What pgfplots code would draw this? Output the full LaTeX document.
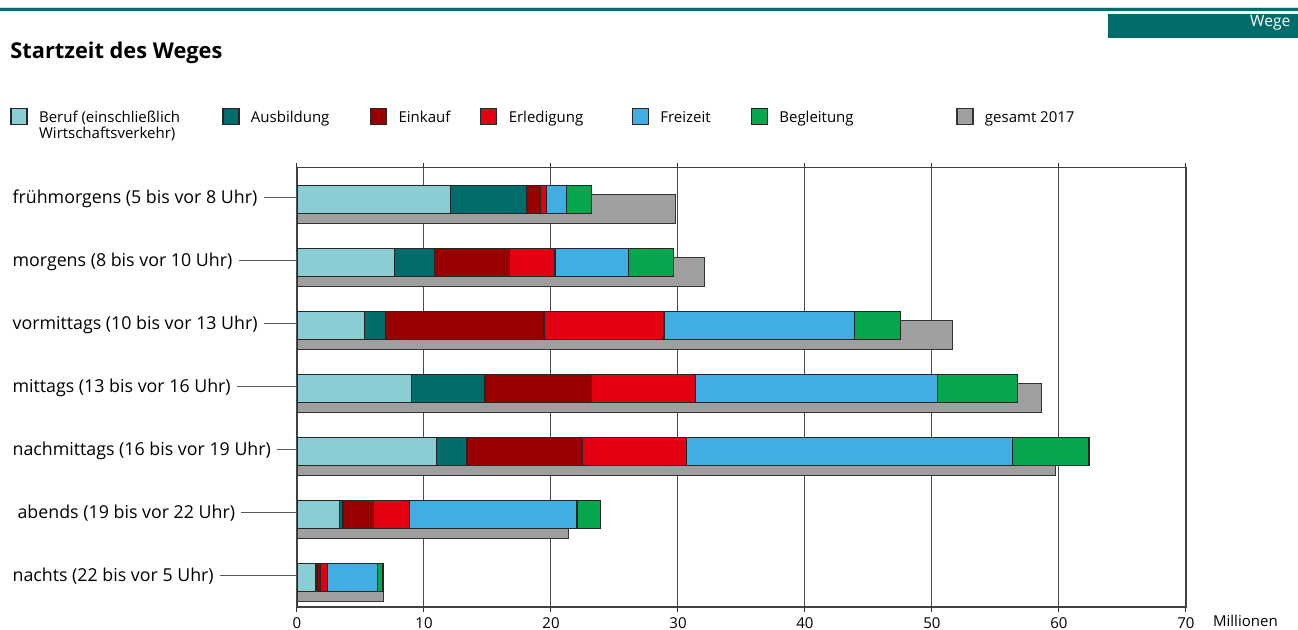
\documentclass[border=0pt]{standalone}
\usepackage{fontspec}
\setmainfont{Open Sans}
\usepackage{pgfplots}
\pgfplotsset{compat=1.18}

\definecolor{cBeruf}{HTML}{8ACED3}
\definecolor{cAusb}{HTML}{006D6C}
\definecolor{cEink}{HTML}{990000}
\definecolor{cErl}{HTML}{E30013}
\definecolor{cFrei}{HTML}{40AEE3}
\definecolor{cBegl}{HTML}{06A64C}
\definecolor{cGes}{HTML}{9F9F9F}

% label with leader line running to the axis
\newcommand{\lab}[1]{\makebox[142pt][l]{#1\hspace{3.2pt}{\color{black!65}\leaders\vrule height 3.45pt depth -2.85pt\hfill}}}

\pgfplotsset{
  mylegend/.style={legend image code/.code={
      \draw[##1, line width=0.6pt] (0pt,-1.2pt) rectangle (8pt,7pt);
      \path[draw=none, fill=none] (0pt,0pt) -- (14pt,0pt);}},
  frame/.style={at={(148.5pt,11.5pt)}, anchor=south west,
    scale only axis, width=444.5pt, height=219.65pt,
    xmin=0, xmax=70, ymin=-0.497, ymax=6.476},
}

\begin{document}
\begin{tikzpicture}
\useasboundingbox (0,0) rectangle (649pt,315pt);

% header
\fill[black!15] (0,311pt) rectangle (649pt,311.6pt);
\fill[cAusb] (0,309.6pt) rectangle (649pt,311pt);
\fill[cAusb] (554pt,296.15pt) rectangle (649pt,308pt);
\node[anchor=base east, text=white, inner sep=0pt, font=\fontsize{7.8}{9}\selectfont] at (645.35pt,301.65pt) {Wege};
\node[anchor=base west, inner sep=0pt, font=\bfseries\fontsize{10.9}{12}\selectfont] at (5pt,285.85pt) {Startzeit des Weges};

% grid, frame, labels and totals
\begin{axis}[frame,
  xtick={0,10,...,70}, ytick={0,1,...,6},
  yticklabels={
    \lab{nachts (22 bis vor 5 Uhr)},
    \lab{\hspace{2.5pt}abends (19 bis vor 22 Uhr)},
    \lab{nachmittags (16 bis vor 19 Uhr)},
    \lab{mittags (13 bis vor 16 Uhr)},
    \lab{vormittags (10 bis vor 13 Uhr)},
    \lab{morgens (8 bis vor 10 Uhr)},
    \lab{frühmorgens (5 bis vor 8 Uhr)}},
  tick align=outside, major tick length=2.5pt,
  ytick style={draw=none},
  xtick style={black!80, line width=0.5pt},
  xmajorgrids, major grid style={black!70, line width=0.5pt},
  axis line style={black!75, line width=0.6pt},
  /pgf/number format/assume math mode=true,
  xticklabel style={font=\fontsize{7.5}{9}\selectfont, inner sep=0pt, yshift=-2.6pt},
  yticklabel style={font=\fontsize{8.9}{10}\selectfont, inner sep=0pt, anchor=base east, yshift=-3.15pt, xshift=2.5pt},
  xbar,
]
\addplot[fill=cGes, draw=black!80, line width=0.6pt, bar width=14.5pt, bar shift=-5.55pt]
  coordinates {(6.8,0) (21.4,1) (59.75,2) (58.6,3) (51.6,4) (32.1,5) (29.8,6)};
\end{axis}

% stacked purposes
\begin{axis}[frame, hide axis, xbar stacked,
  bar width=14.2pt,
  every axis plot/.append style={draw=black!85, line width=0.6pt, bar shift=-0.9pt},
  legend columns=7,
  legend style={at={(axis description cs:-0.3223,1.137)}, anchor=north west,
    draw=none, fill=none, inner sep=0pt, outer sep=0pt, column sep=0pt,
    font=\fontsize{7.5}{7.5}\selectfont, nodes={inner sep=0pt}},
  legend cell align=left,
  legend style={cells={anchor=base west}},
]
\addplot[fill=cBeruf, mylegend] coordinates {(1.45,0) (3.34,1) (11.0,2) (9.0,3) (5.3,4) (7.67,5) (12.1,6)};
\addplot[fill=cAusb, mylegend] coordinates {(0.12,0) (0.29,1) (2.38,2) (5.8,3) (1.65,4) (3.15,5) (6.0,6)};
\addplot[fill=cEink, mylegend] coordinates {(0.28,0) (2.41,1) (9.1,2) (8.4,3) (12.5,4) (5.9,5) (1.05,6)};
\addplot[fill=cErl, mylegend] coordinates {(0.53,0) (2.82,1) (8.18,2) (8.15,3) (9.45,4) (3.6,5) (0.5,6)};
\addplot[fill=cFrei, mylegend] coordinates {(3.95,0) (13.18,1) (25.67,2) (19.1,3) (15.0,4) (5.8,5) (1.6,6)};
\addplot[fill=cBegl, mylegend] coordinates {(0.44,0) (1.85,1) (6.04,2) (6.3,3) (3.6,4) (3.5,5) (1.95,6)};
\addlegendimage{fill=cGes, draw=black!80, mylegend}
\addlegendentry{\makebox[91.65pt][l]{\begin{tabular}[t]{@{}l@{}}Beruf (einschließlich\\Wirtschaftsverkehr)\end{tabular}}}
\addlegendentry{\makebox[59.5pt][l]{Ausbildung}}
\addlegendentry{\makebox[40.8pt][l]{Einkauf}}
\addlegendentry{\makebox[61.5pt][l]{Erledigung}}
\addlegendentry{\makebox[45.2pt][l]{Freizeit}}
\addlegendentry{\makebox[88.5pt][l]{Begleitung}}
\addlegendentry{gesamt 2017}
\end{axis}

\node[anchor=base west, inner sep=0pt, font=\fontsize{7.5}{9}\selectfont] at (606.35pt,1.6pt) {Millionen};
\end{tikzpicture}
\end{document}
